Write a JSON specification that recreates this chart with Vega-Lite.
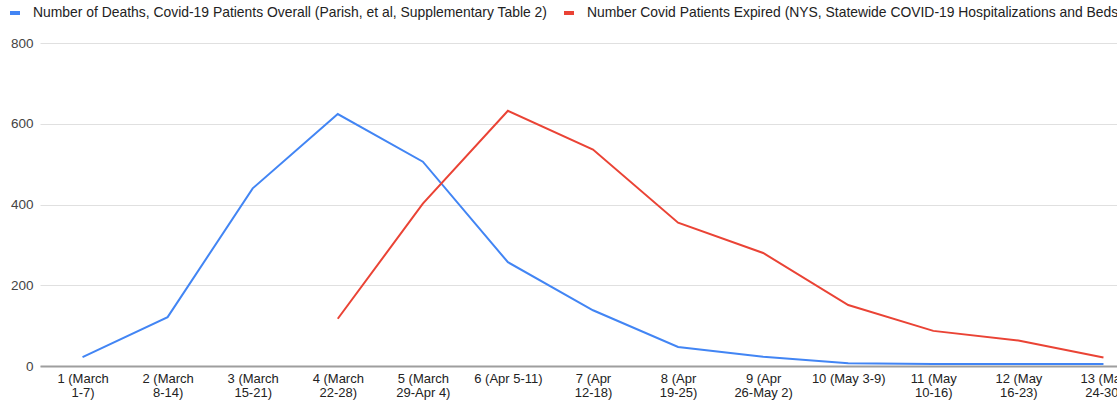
{
  "$schema": "https://vega.github.io/schema/vega-lite/v6.json",
  "width": 1077,
  "height": 323,
  "autosize": {"type": "none"},
  "padding": {"left": 40, "top": 43, "right": 0, "bottom": 38},
  "background": "white",
  "config": {
    "view": {"stroke": null},
    "font": "Liberation Sans"
  },
  "data": {
    "values": [
      {"week": "1 (March 1-7)", "series": "Number of Deaths, Covid-19 Patients Overall (Parish, et al, Supplementary Table 2)", "value": 22},
      {"week": "2 (March 8-14)", "series": "Number of Deaths, Covid-19 Patients Overall (Parish, et al, Supplementary Table 2)", "value": 121},
      {"week": "3 (March 15-21)", "series": "Number of Deaths, Covid-19 Patients Overall (Parish, et al, Supplementary Table 2)", "value": 440},
      {"week": "4 (March 22-28)", "series": "Number of Deaths, Covid-19 Patients Overall (Parish, et al, Supplementary Table 2)", "value": 624},
      {"week": "5 (March 29-Apr 4)", "series": "Number of Deaths, Covid-19 Patients Overall (Parish, et al, Supplementary Table 2)", "value": 506},
      {"week": "6 (Apr 5-11)", "series": "Number of Deaths, Covid-19 Patients Overall (Parish, et al, Supplementary Table 2)", "value": 257},
      {"week": "7 (Apr 12-18)", "series": "Number of Deaths, Covid-19 Patients Overall (Parish, et al, Supplementary Table 2)", "value": 138},
      {"week": "8 (Apr 19-25)", "series": "Number of Deaths, Covid-19 Patients Overall (Parish, et al, Supplementary Table 2)", "value": 47},
      {"week": "9 (Apr 26-May 2)", "series": "Number of Deaths, Covid-19 Patients Overall (Parish, et al, Supplementary Table 2)", "value": 23},
      {"week": "10 (May 3-9)", "series": "Number of Deaths, Covid-19 Patients Overall (Parish, et al, Supplementary Table 2)", "value": 7},
      {"week": "11 (May 10-16)", "series": "Number of Deaths, Covid-19 Patients Overall (Parish, et al, Supplementary Table 2)", "value": 5},
      {"week": "12 (May 16-23)", "series": "Number of Deaths, Covid-19 Patients Overall (Parish, et al, Supplementary Table 2)", "value": 5},
      {"week": "13 (May 24-30)", "series": "Number of Deaths, Covid-19 Patients Overall (Parish, et al, Supplementary Table 2)", "value": 5},
      {"week": "4 (March 22-28)", "series": "Number Covid Patients Expired (NYS,  Statewide COVID-19 Hospitalizations and Beds)", "value": 117},
      {"week": "5 (March 29-Apr 4)", "series": "Number Covid Patients Expired (NYS,  Statewide COVID-19 Hospitalizations and Beds)", "value": 402},
      {"week": "6 (Apr 5-11)", "series": "Number Covid Patients Expired (NYS,  Statewide COVID-19 Hospitalizations and Beds)", "value": 632},
      {"week": "7 (Apr 12-18)", "series": "Number Covid Patients Expired (NYS,  Statewide COVID-19 Hospitalizations and Beds)", "value": 536},
      {"week": "8 (Apr 19-25)", "series": "Number Covid Patients Expired (NYS,  Statewide COVID-19 Hospitalizations and Beds)", "value": 355},
      {"week": "9 (Apr 26-May 2)", "series": "Number Covid Patients Expired (NYS,  Statewide COVID-19 Hospitalizations and Beds)", "value": 280},
      {"week": "10 (May 3-9)", "series": "Number Covid Patients Expired (NYS,  Statewide COVID-19 Hospitalizations and Beds)", "value": 151},
      {"week": "11 (May 10-16)", "series": "Number Covid Patients Expired (NYS,  Statewide COVID-19 Hospitalizations and Beds)", "value": 87},
      {"week": "12 (May 16-23)", "series": "Number Covid Patients Expired (NYS,  Statewide COVID-19 Hospitalizations and Beds)", "value": 63},
      {"week": "13 (May 24-30)", "series": "Number Covid Patients Expired (NYS,  Statewide COVID-19 Hospitalizations and Beds)", "value": 21}
    ]
  },
  "mark": {"type": "line", "strokeWidth": 2, "clip": false},
  "encoding": {
    "x": {
      "field": "week",
      "type": "ordinal",
      "sort": null,
      "scale": {"type": "point", "padding": 0.5, "range": [0, 1106]},
      "axis": {
        "title": null,
        "labelAngle": 0,
        "labelFontSize": 13,
        "labelColor": "#222222",
        "labelPadding": 6,
        "labelLineHeight": 14,
        "labelExpr": "length(datum.label) > 12 ? split(replace(datum.label, regexp('^(\\\\S+ \\\\S+) '), '$1|'), '|') : datum.label",
        "ticks": false,
        "domainColor": "#9e9e9e",
        "domainWidth": 2,
        "grid": false,
        "labelOverlap": false
      }
    },
    "y": {
      "field": "value",
      "type": "quantitative",
      "scale": {"domain": [0, 800], "nice": false},
      "axis": {
        "title": null,
        "values": [0, 200, 400, 600, 800],
        "labelFontSize": 13.5,
        "labelColor": "#444444",
        "labelPadding": 7,
        "ticks": false,
        "domain": false,
        "gridColor": "#e0e0e0",
        "gridWidth": 1
      }
    },
    "color": {
      "field": "series",
      "type": "nominal",
      "sort": null,
      "scale": {
        "domain": [
          "Number of Deaths, Covid-19 Patients Overall (Parish, et al, Supplementary Table 2)",
          "Number Covid Patients Expired (NYS,  Statewide COVID-19 Hospitalizations and Beds)"
        ],
        "range": ["#4285F4", "#EA4335"]
      },
      "legend": {
        "title": null,
        "orient": "none",
        "direction": "horizontal",
        "legendX": -32,
        "legendY": -37,
        "symbolType": "stroke",
        "symbolStrokeWidth": 4,
        "symbolSize": 100,
        "labelFontSize": 13.9,
        "labelColor": "#222222",
        "labelOffset": 11,
        "labelLimit": 0,
        "columnPadding": 8
      }
    }
  }
}
